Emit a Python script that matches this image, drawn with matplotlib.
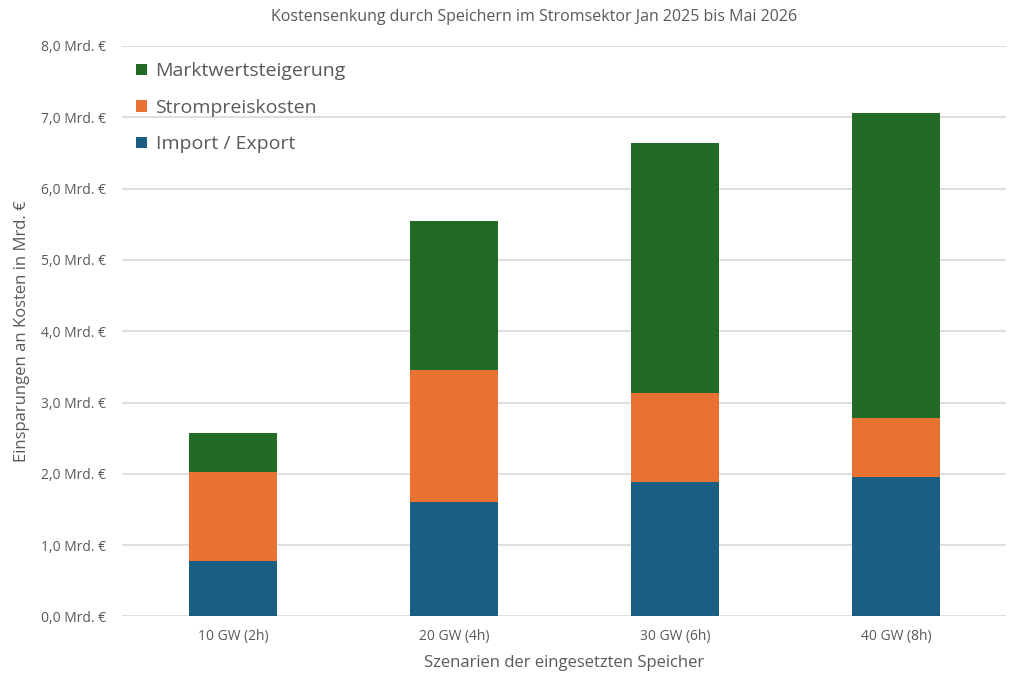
import numpy as np
import matplotlib.pyplot as plt
from matplotlib.ticker import FuncFormatter

# Data (Mrd. €)
szenarien = ["10 GW (2h)", "20 GW (4h)", "30 GW (6h)", "40 GW (8h)"]
import_export = [0.78, 1.60, 1.88, 1.95]
strompreiskosten = [1.25, 1.85, 1.26, 0.84]
marktwertsteigerung = [0.54, 2.09, 3.50, 4.27]

plt.rcParams['font.family'] = ['Open Sans', 'DejaVu Sans']
text_col = "#595959"

fig = plt.figure(figsize=(10.24, 6.83), dpi=100)
ax = fig.add_axes([0.1196, 0.0974, 0.8633, 0.8353])

x = np.arange(len(szenarien))
w = 0.40
b1 = ax.bar(x, import_export, w, color="#1A5F82", label="Import / Export", zorder=3)
bottom2 = np.array(import_export)
b2 = ax.bar(x, strompreiskosten, w, bottom=bottom2, color="#E97132",
            label="Strompreiskosten", zorder=3)
bottom3 = bottom2 + np.array(strompreiskosten)
b3 = ax.bar(x, marktwertsteigerung, w, bottom=bottom3, color="#216B26",
            label="Marktwertsteigerung", zorder=3)

ax.set_xlim(-0.5, len(szenarien) - 0.5)
ax.set_ylim(0, 8)
ax.set_yticks(np.arange(0, 9, 1))
ax.yaxis.set_major_formatter(FuncFormatter(lambda v, p: f"{v:.1f}".replace(".", ",") + " Mrd. €"))
ax.set_xticks(x)
ax.set_xticklabels(szenarien)
ax.tick_params(length=0, colors=text_col, labelsize=10)
ax.tick_params(axis="x", pad=9)
ax.tick_params(axis="y", pad=12)
ax.grid(axis="y", color="#D9D9D9", linewidth=1.2, zorder=0)
for s in ax.spines.values():
    s.set_visible(False)

ax.set_ylabel("Einsparungen an Kosten in Mrd. €", fontsize=12, color=text_col, labelpad=8)
ax.set_xlabel("Szenarien der eingesetzten Speicher", fontsize=12, color=text_col, labelpad=8)
fig.text(0.522, 0.975, "Kostensenkung durch Speichern im Stromsektor Jan 2025 bis Mai 2026",
         ha="center", va="center", fontsize=11.5, color=text_col)

leg = ax.legend(handles=[b3, b2, b1], loc="upper left", bbox_to_anchor=(0.0, 0.995),
                frameon=False, fontsize=14, handlelength=0.55, handleheight=0.55,
                handletextpad=0.45, labelspacing=0.95, borderaxespad=0.3)
for t in leg.get_texts():
    t.set_color(text_col)

plt.savefig("out.png", dpi=100)
